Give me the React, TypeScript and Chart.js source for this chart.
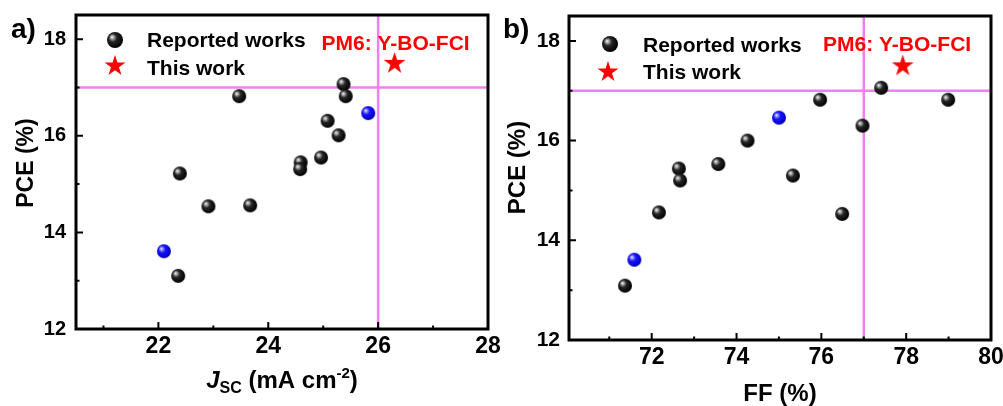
import React, { useEffect, useRef } from "react";
import { Chart, registerables } from "chart.js";

Chart.register(...registerables);

const FONT = "'Liberation Sans', Arial, Helvetica, sans-serif";
const PINK = "#f27ff2";
const RED = "#ff0000";

// ---------- Data: panel a (Jsc vs PCE) ----------
const jscReported = [23.47, 25.37, 25.41, 25.08, 25.28, 24.96, 24.59, 24.58, 22.39, 22.91, 23.67, 22.36];
const pceReportedA = [16.82, 17.07, 16.82, 16.31, 16.01, 15.55, 15.45, 15.31, 15.22, 14.54, 14.56, 13.1];
const jscBlue = [25.82, 22.1];
const pceBlueA = [16.47, 13.61];
const jscThisWork = [26.3];
const pceThisWorkA = [17.52];

// ---------- Data: panel b (FF vs PCE) ----------
const ffReported = [75.97, 77.41, 78.99, 76.97, 74.26, 73.57, 72.64, 72.67, 75.33, 72.17, 76.49, 71.37];
const pceReportedB = [16.82, 17.06, 16.82, 16.3, 16.0, 15.53, 15.44, 15.2, 15.3, 14.56, 14.53, 13.09];
const ffBlue = [75.0, 71.59];
const pceBlueB = [16.46, 13.61];
const ffThisWork = [77.92];
const pceThisWorkB = [17.52];

// ---------- Reference lines ----------
const jscRefLine = 26;
const ffRefLine = 77;
const pceRefLine = 17;

// ---------- Axes ----------
const jscRange = [20.5, 28];
const jscTicks = [22, 24, 26, 28];
const jscMinor = [21, 23, 25, 27];
const ffRange = [70.05, 80];
const ffTicks = [72, 74, 76, 78, 80];
const ffMinor = [71, 73, 75, 77, 79];
const pceRange = [12, 18.5];
const pceTicks = [12, 14, 16, 18];
const pceMinor = [13, 15, 17];

// ---------- Text ----------
const legendLabels = ["Reported works", "This work"];
const noteText = "PM6: Y-BO-FCI";
const yTitleText = "PCE (%)";

type PanelCfg = {
  id: string;
  offset: number;
  width: number;
  area: { left: number; right: number; top: number; bottom: number };
  xRange: number[];
  xTicks: number[];
  xMinor: number[];
  reported: [number[], number[]];
  blue: [number[], number[]];
  star: [number[], number[]];
  xRef: number;
  xTickSize: number;
  yTickSize: number;
  yTickPad: number;
  label: string;
  labelPos: [number, number];
  legend: { sphere: [number, number]; t1: [number, number]; star: [number, number]; t2: [number, number] };
  note: [number, number];
  yTitle: { x: number; y: number; size: number };
  xTitleBaseline: number;
  xTitleKind: "jsc" | "ff";
};

const panels: PanelCfg[] = [
  {
    id: "a",
    offset: 0,
    width: 500,
    area: { left: 76, right: 488, top: 15, bottom: 329 },
    xRange: jscRange,
    xTicks: jscTicks,
    xMinor: jscMinor,
    reported: [jscReported, pceReportedA],
    blue: [jscBlue, pceBlueA],
    star: [jscThisWork, pceThisWorkA],
    xRef: jscRefLine,
    xTickSize: 23,
    yTickSize: 20,
    yTickPad: 10,
    label: "a)",
    labelPos: [11, 38],
    legend: { sphere: [115, 40], t1: [147, 47], star: [115, 65], t2: [147, 75] },
    note: [321.5, 50],
    yTitle: { x: 33, y: 163, size: 23 },
    xTitleBaseline: 388,
    xTitleKind: "jsc",
  },
  {
    id: "b",
    offset: 500,
    width: 503,
    area: { left: 69, right: 491, top: 16, bottom: 340 },
    xRange: ffRange,
    xTicks: ffTicks,
    xMinor: ffMinor,
    reported: [ffReported, pceReportedB],
    blue: [ffBlue, pceBlueB],
    star: [ffThisWork, pceThisWorkB],
    xRef: ffRefLine,
    xTickSize: 23,
    yTickSize: 21,
    yTickPad: 9,
    label: "b)",
    labelPos: [3, 38],
    legend: { sphere: [110, 44], t1: [143, 51.5], star: [108, 71], t2: [143, 78.5] },
    note: [323, 50.5],
    yTitle: { x: 25, y: 167.5, size: 24 },
    xTitleBaseline: 401,
    xTitleKind: "ff",
  },
];

const BLACK_STOPS: [number, string][] = [
  [0, "#ffffff"],
  [0.16, "#b0b0b0"],
  [0.45, "#262626"],
  [1, "#000000"],
];
const BLUE_STOPS: [number, string][] = [
  [0, "#ffffff"],
  [0.16, "#9a9aff"],
  [0.45, "#1414ff"],
  [1, "#0000b8"],
];

function makeSphere(r: number, stops: [number, string][]) {
  const c = document.createElement("canvas");
  const s = Math.ceil(2 * r + 2);
  c.width = s;
  c.height = s;
  const ctx = c.getContext("2d")!;
  const m = s / 2;
  const g = ctx.createRadialGradient(m - 0.38 * r, m - 0.38 * r, 0, m - 0.15 * r, m - 0.15 * r, r * 1.15);
  stops.forEach(([o, col]) => g.addColorStop(o, col));
  ctx.fillStyle = g;
  ctx.beginPath();
  ctx.arc(m, m, r, 0, Math.PI * 2);
  ctx.fill();
  return c;
}

function starPath(ctx: CanvasRenderingContext2D, cx: number, cy: number, R: number) {
  const r = R * 0.382;
  ctx.beginPath();
  for (let i = 0; i < 10; i++) {
    const rad = i % 2 === 0 ? R : r;
    const ang = -Math.PI / 2 + (i * Math.PI) / 5;
    const px = cx + rad * Math.cos(ang);
    const py = cy + rad * Math.sin(ang);
    if (i === 0) ctx.moveTo(px, py);
    else ctx.lineTo(px, py);
  }
  ctx.closePath();
}

function makeStar(R: number) {
  const c = document.createElement("canvas");
  const s = Math.ceil(2 * R + 2);
  c.width = s;
  c.height = s;
  const ctx = c.getContext("2d")!;
  ctx.fillStyle = RED;
  starPath(ctx, s / 2, s / 2 + R * 0.1, R);
  ctx.fill();
  return c;
}

const toPts = (xs: number[], ys: number[]) => xs.map((x, i) => ({ x, y: ys[i] }));

function drawJscTitle(ctx: CanvasRenderingContext2D, cx: number, base: number) {
  const parts: { t: string; f: string; dy: number }[] = [
    { t: "J", f: `italic bold 24px ${FONT}`, dy: 0 },
    { t: "SC", f: `bold 16px ${FONT}`, dy: 5 },
    { t: " (mA cm", f: `bold 24px ${FONT}`, dy: 0 },
    { t: "-2", f: `bold 15px ${FONT}`, dy: -10 },
    { t: ")", f: `bold 24px ${FONT}`, dy: 0 },
  ];
  let total = 0;
  const widths = parts.map((p) => {
    ctx.font = p.f;
    const w = ctx.measureText(p.t).width;
    total += w;
    return w;
  });
  let x = cx - total / 2;
  ctx.textAlign = "left";
  ctx.textBaseline = "alphabetic";
  parts.forEach((p, i) => {
    ctx.font = p.f;
    ctx.fillText(p.t, x, base + p.dy);
    x += widths[i];
  });
}

function PanelChart({ p }: { p: PanelCfg }) {
  const ref = useRef<HTMLCanvasElement | null>(null);

  useEffect(() => {
    const canvas = ref.current;
    if (!canvas) return;
    const blackSphere = makeSphere(7, BLACK_STOPS);
    const blueSphere = makeSphere(7, BLUE_STOPS);
    const legendSphere = makeSphere(8, BLACK_STOPS);
    const starImg = makeStar(11.5);
    const H = 406;

    const decor = {
      id: "decor" + p.id,
      afterDatasetsDraw(chart: any) {
        const { ctx, chartArea: a, scales } = chart;
        const xs = scales.x;
        const ys = scales.y;
        ctx.save();
        ctx.strokeStyle = "#000";
        ctx.lineWidth = 2;
        ctx.beginPath();
        p.xTicks.forEach((v) => {
          const px = xs.getPixelForValue(v);
          ctx.moveTo(px, a.bottom);
          ctx.lineTo(px, a.bottom - 7);
        });
        p.xMinor.forEach((v) => {
          const px = xs.getPixelForValue(v);
          ctx.moveTo(px, a.bottom);
          ctx.lineTo(px, a.bottom - 3.5);
        });
        pceTicks.forEach((v) => {
          const py = ys.getPixelForValue(v);
          ctx.moveTo(a.left, py);
          ctx.lineTo(a.left + 7, py);
        });
        pceMinor.forEach((v) => {
          const py = ys.getPixelForValue(v);
          ctx.moveTo(a.left, py);
          ctx.lineTo(a.left + 3.5, py);
        });
        ctx.stroke();
        ctx.lineWidth = 3;
        ctx.strokeRect(a.left, a.top, a.right - a.left, a.bottom - a.top);
        ctx.restore();
      },
      afterDraw(chart: any) {
        const { ctx, chartArea: a } = chart;
        ctx.save();
        ctx.fillStyle = "#000";
        // panel label
        ctx.font = `bold 28px ${FONT}`;
        ctx.textAlign = "left";
        ctx.textBaseline = "alphabetic";
        ctx.fillText(p.label, p.labelPos[0], p.labelPos[1]);
        // legend
        const L = p.legend;
        ctx.drawImage(legendSphere, L.sphere[0] - legendSphere.width / 2, L.sphere[1] - legendSphere.height / 2);
        ctx.fillStyle = RED;
        starPath(ctx, L.star[0], L.star[1] + 1, 11);
        ctx.fill();
        ctx.fillStyle = "#000";
        ctx.font = `bold 21px ${FONT}`;
        ctx.fillText(legendLabels[0], L.t1[0], L.t1[1]);
        ctx.fillText(legendLabels[1], L.t2[0], L.t2[1]);
        // note
        ctx.fillStyle = RED;
        ctx.fillText(noteText, p.note[0], p.note[1]);
        // y title
        ctx.fillStyle = "#000";
        ctx.save();
        ctx.translate(p.yTitle.x, p.yTitle.y);
        ctx.rotate(-Math.PI / 2);
        ctx.font = `bold ${p.yTitle.size}px ${FONT}`;
        ctx.textAlign = "center";
        ctx.textBaseline = "alphabetic";
        ctx.fillText(yTitleText, 0, 0);
        ctx.restore();
        // x title
        const cx = (a.left + a.right) / 2;
        if (p.xTitleKind === "jsc") {
          drawJscTitle(ctx, cx, p.xTitleBaseline);
        } else {
          ctx.font = `bold 24px ${FONT}`;
          ctx.textAlign = "center";
          ctx.textBaseline = "alphabetic";
          ctx.fillText("FF (%)", cx, p.xTitleBaseline);
        }
        ctx.restore();
      },
    };

    const chart = new Chart(canvas, {
      type: "scatter",
      data: {
        datasets: [
          {
            label: legendLabels[0],
            data: toPts(p.reported[0], p.reported[1]),
            pointStyle: blackSphere as any,
            pointRadius: 7,
            order: 1,
          },
          {
            label: "blue",
            data: toPts(p.blue[0], p.blue[1]),
            pointStyle: blueSphere as any,
            pointRadius: 7,
            order: 1,
          },
          {
            label: legendLabels[1],
            data: toPts(p.star[0], p.star[1]),
            pointStyle: starImg as any,
            pointRadius: 11,
            order: 0,
          },
          {
            label: "hline",
            data: [
              { x: p.xRange[0], y: pceRefLine },
              { x: p.xRange[1], y: pceRefLine },
            ],
            showLine: true,
            borderColor: PINK,
            borderWidth: 2.5,
            pointRadius: 0,
            order: 10,
          },
          {
            label: "vline",
            data: [
              { x: p.xRef, y: pceRange[0] },
              { x: p.xRef, y: pceRange[1] },
            ],
            showLine: true,
            borderColor: PINK,
            borderWidth: 2.5,
            pointRadius: 0,
            order: 10,
          },
        ],
      },
      options: {
        responsive: false,
        maintainAspectRatio: false,
        animation: false,
        devicePixelRatio: 1,
        events: [],
        layout: {
          padding: { left: 0, right: p.width - p.area.right, top: p.area.top, bottom: 0 },
        },
        plugins: {
          legend: { display: false },
          tooltip: { enabled: false },
          title: { display: false },
        },
        scales: {
          x: {
            type: "linear",
            min: p.xRange[0],
            max: p.xRange[1],
            grid: { display: false, drawTicks: false },
            border: { display: false },
            ticks: {
              color: "#000",
              font: { family: FONT, weight: "bold", size: p.xTickSize },
              padding: 4,
              maxRotation: 0,
              autoSkip: false,
            },
            afterBuildTicks: (s: any) => {
              s.ticks = p.xTicks.map((v) => ({ value: v }));
            },
            afterFit: (s: any) => {
              s.height = H - p.area.bottom;
              s.paddingLeft = 0;
              s.paddingRight = 0;
            },
          },
          y: {
            type: "linear",
            min: pceRange[0],
            max: pceRange[1],
            grid: { display: false, drawTicks: false },
            border: { display: false },
            ticks: {
              color: "#000",
              font: { family: FONT, weight: "bold", size: p.yTickSize },
              padding: p.yTickPad,
              autoSkip: false,
            },
            afterBuildTicks: (s: any) => {
              s.ticks = pceTicks.map((v) => ({ value: v }));
            },
            afterFit: (s: any) => {
              s.width = p.area.left;
              s.paddingTop = 0;
              s.paddingBottom = 0;
            },
          },
        },
      } as any,
      plugins: [decor],
    });
    return () => chart.destroy();
  }, [p]);

  return (
    <canvas
      ref={ref}
      width={p.width}
      height={406}
      style={{ position: "absolute", left: p.offset, top: 0, width: p.width, height: 406, display: "block" }}
    />
  );
}

export default function App() {
  return (
    <div style={{ position: "absolute", left: 0, top: 0, width: 1003, height: 406, background: "#fff", overflow: "hidden" }}>
      {panels.map((p) => (
        <PanelChart key={p.id} p={p} />
      ))}
    </div>
  );
}
